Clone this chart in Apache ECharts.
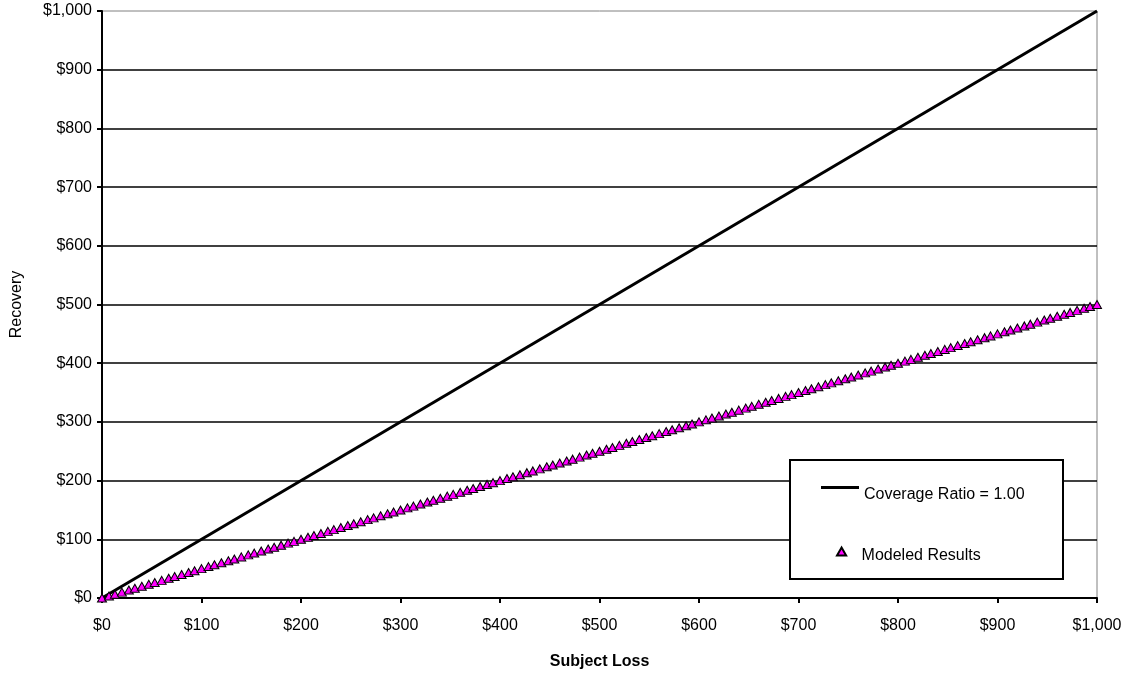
<!DOCTYPE html>
<html>
<head>
<meta charset="utf-8">
<script src="https://cdn.jsdelivr.net/npm/echarts@6/dist/echarts.min.js"></script>
<style>
  html, body { margin: 0; padding: 0; background: #fff; }
  #container { width: 1126px; height: 679px; }
</style>
</head>
<body>
<div id="container"></div>
<script>
// coverage ratio line (recovery = loss)
var coverageLoss = [0, 1000];
var coverageRecovery = [0, 1000];

// modeled results
var modeledLoss = [
  0,7,13,20,27,33,40,47,53,60,67,73,80,87,93,
  100,107,113,120,127,133,140,147,153,160,167,173,180,187,193,
  200,207,213,220,227,233,240,247,253,260,267,273,280,287,293,
  300,307,313,320,327,333,340,347,353,360,367,373,380,387,393,
  400,407,413,420,427,433,440,447,453,460,467,473,480,487,493,
  500,507,513,520,527,533,540,547,553,560,567,573,580,587,593,
  600,607,613,620,627,633,640,647,653,660,667,673,680,687,693,
  700,707,713,720,727,733,740,747,753,760,767,773,780,787,793,
  800,807,813,820,827,833,840,847,853,860,867,873,880,887,893,
  900,907,913,920,927,933,940,947,953,960,967,973,980,987,993,
  1000
];
var modeledRecovery = [
  0,3.5,6.5,10,13.5,16.5,20,23.5,26.5,30,33.5,36.5,40,43.5,46.5,
  50,53.5,56.5,60,63.5,66.5,70,73.5,76.5,80,83.5,86.5,90,93.5,96.5,
  100,103.5,106.5,110,113.5,116.5,120,123.5,126.5,130,133.5,136.5,140,143.5,146.5,
  150,153.5,156.5,160,163.5,166.5,170,173.5,176.5,180,183.5,186.5,190,193.5,196.5,
  200,203.5,206.5,210,213.5,216.5,220,223.5,226.5,230,233.5,236.5,240,243.5,246.5,
  250,253.5,256.5,260,263.5,266.5,270,273.5,276.5,280,283.5,286.5,290,293.5,296.5,
  300,303.5,306.5,310,313.5,316.5,320,323.5,326.5,330,333.5,336.5,340,343.5,346.5,
  350,353.5,356.5,360,363.5,366.5,370,373.5,376.5,380,383.5,386.5,390,393.5,396.5,
  400,403.5,406.5,410,413.5,416.5,420,423.5,426.5,430,433.5,436.5,440,443.5,446.5,
  450,453.5,456.5,460,463.5,466.5,470,473.5,476.5,480,483.5,486.5,490,493.5,496.5,
  500
];

var axisMin = 0, axisMax = 1000, axisStep = 100;
var fontName = "'Liberation Sans', Arial, sans-serif";

function zip(xs, ys) {
  var out = [];
  for (var i = 0; i < xs.length; i++) out.push([xs[i], ys[i]]);
  return out;
}
function money(v) {
  return '$' + Number(v).toLocaleString('en-US');
}
// empty first line pushes the legend text a bit below its icon, like excel does
function lowered(name) {
  return '\n' + name;
}

var myChart = echarts.init(document.getElementById('container'));
var option = {
  animation: false,
  backgroundColor: '#fff',
  textStyle: { fontFamily: fontName },
  grid: {
    left: 102, right: 29, top: 11, bottom: 81,
    show: true, borderColor: '#808080', borderWidth: 1,
    backgroundColor: 'transparent'
  },
  xAxis: {
    type: 'value',
    min: axisMin, max: axisMax, interval: axisStep,
    name: 'Subject Loss',
    nameLocation: 'middle',
    nameGap: 56,
    nameTextStyle: { fontSize: 16, fontWeight: 'bold', color: '#000', fontFamily: fontName },
    axisLine: { show: true, lineStyle: { color: '#000', width: 2 } },
    axisTick: { show: true, inside: false, length: 5, lineStyle: { color: '#000', width: 2 } },
    axisLabel: { formatter: money, fontSize: 16, color: '#000', margin: 20, fontFamily: fontName },
    splitLine: { show: false }
  },
  yAxis: {
    type: 'value',
    min: axisMin, max: axisMax, interval: axisStep,
    name: 'Recovery',
    nameLocation: 'middle',
    nameGap: 77,
    nameTextStyle: { fontSize: 16, color: '#000', fontFamily: fontName },
    axisLine: { show: true, lineStyle: { color: '#000', width: 2 } },
    axisTick: { show: true, inside: false, length: 5, lineStyle: { color: '#000', width: 2 } },
    axisLabel: { formatter: money, fontSize: 16, color: '#000', margin: 10, padding: [5, 0, 0, 0], fontFamily: fontName },
    splitLine: { show: true, showMinLine: false, showMaxLine: false, lineStyle: { color: '#000', width: 1.5 } }
  },
  graphic: [{
    type: 'rect',
    z: 10,
    shape: { x: 790, y: 460, width: 273, height: 119 },
    style: { fill: '#fff', stroke: '#000', lineWidth: 2 }
  }],
  legend: [{
    z: 20,
    left: 821, top: 472, padding: 0,
    itemWidth: 38, itemHeight: 3,
    data: [{ name: 'Coverage Ratio = 1.00', icon: 'rect' }],
    formatter: lowered,
    textStyle: { fontSize: 16, color: '#000', lineHeight: 15, fontFamily: fontName }
  }, {
    z: 20,
    left: 836, top: 539, padding: 0,
    itemWidth: 30, itemHeight: 8,
    symbolKeepAspect: true,
    data: [{ name: 'Modeled Results', icon: 'path://M4,0L8,7L0,7Z' }],
    formatter: lowered,
    textStyle: { fontSize: 16, color: '#000', lineHeight: 9, fontFamily: fontName }
  }],
  series: [{
    name: 'Coverage Ratio = 1.00',
    type: 'line',
    clip: false,
    showSymbol: false,
    color: '#000',
    lineStyle: { color: '#000', width: 3 },
    data: zip(coverageLoss, coverageRecovery),
    z: 3
  }, {
    name: 'Modeled Results',
    type: 'scatter',
    clip: false,
    symbol: 'triangle',
    symbolSize: [9, 8],
    itemStyle: { color: '#ff00ff', borderColor: '#000', borderWidth: 1, opacity: 1 },
    data: zip(modeledLoss, modeledRecovery),
    z: 4
  }]
};
myChart.setOption(option);
</script>
</body>
</html>
